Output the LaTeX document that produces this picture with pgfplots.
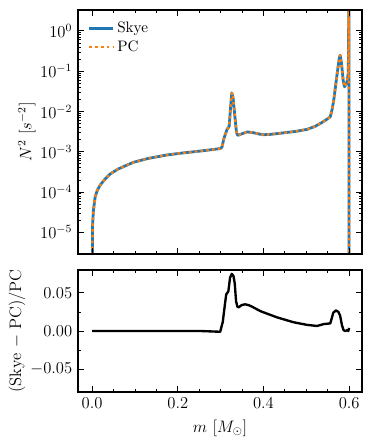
\documentclass[border=0pt,12pt]{standalone}
\usepackage{pgfplots}
\pgfplotsset{compat=1.18}
\definecolor{tabblue}{HTML}{1F77B4}
\definecolor{taborange}{HTML}{FF7F0E}
\pgfplotsset{
  panel/.style={
    scale only axis, width=204.48bp,
    xmin=-0.033, xmax=0.63,
    xtick={0,0.2,0.4,0.6}, minor x tick num=3,
    tick align=inside, xtick pos=both, ytick pos=both,
    major tick length=4bp, minor tick length=2bp,
    every tick/.style={line width=0.6pt, black},
    axis line style={line width=0.8pt},
    axis on top,
  },
}
\begin{document}
\begin{tikzpicture}
\path[use as bounding box] (-56.16bp,182.88bp) rectangle (213.12bp,-137.52bp);
% top panel: N^2 profiles
\begin{axis}[panel,
  at={(0,0)}, anchor=south west, height=175.68bp,
  ymode=log, ymin=2.9e-6, ymax=3.3,
  ytick={1e-5,1e-4,1e-3,1e-2,1e-1,1},
  xticklabels={},
  ylabel={$N^2\ [s^{-2}]$},
  every axis y label/.style={at={(axis description cs:-0.18,0.5)}, rotate=90, anchor=center},
  legend style={draw=none, fill=none, at={(axis description cs:0.02,0.975)}, anchor=north west,
    row sep=0pt, font=\small},
  legend cell align=left,
]
\addplot[tabblue, line width=2pt, line join=round] coordinates {
 (0.0,1e-7) (0.001,1.5e-5) (0.003,3.5e-5) (0.007,7.5e-5) (0.012,1.1e-4)
 (0.019,1.5e-4) (0.03,2.1e-4) (0.042,2.8e-4) (0.06,3.7e-4) (0.08,4.6e-4)
 (0.097,5.5e-4) (0.13,6.8e-4) (0.174,8.3e-4) (0.21,9.3e-4) (0.252,1.04e-3)
 (0.299,1.2e-3) (0.303,1.3e-3) (0.308,2.2e-3) (0.315,3.6e-3) (0.320,4.3e-3)
 (0.323,1.2e-2) (0.326,2.9e-2) (0.329,2.2e-2) (0.333,8e-3) (0.337,3e-3)
 (0.340,2.55e-3) (0.35,2.8e-3) (0.362,3.1e-3) (0.375,3.0e-3) (0.39,2.75e-3)
 (0.40,2.65e-3) (0.416,2.7e-3) (0.447,2.95e-3) (0.475,3.2e-3) (0.502,3.6e-3)
 (0.521,4.3e-3) (0.535,5.2e-3) (0.546,6.2e-3) (0.556,7.4e-3) (0.560,1.1e-2)
 (0.564,1.9e-2) (0.572,8.7e-2) (0.577,2.1e-1) (0.579,2.5e-1) (0.582,1.6e-1)
 (0.586,6e-2) (0.589,4.1e-2) (0.592,4.6e-2) (0.595,5.4e-2) (0.598,9e-2)
 (0.5995,10) (0.600,1e-8)
};
\addlegendentry{Skye}
\addplot[taborange, line width=1.8pt, line join=round, dash pattern=on 1.8pt off 2.4pt] coordinates {
 (0.0,1e-7) (0.001,1.5e-5) (0.003,3.5e-5) (0.007,7.5e-5) (0.012,1.1e-4)
 (0.019,1.5e-4) (0.03,2.1e-4) (0.042,2.8e-4) (0.06,3.7e-4) (0.08,4.6e-4)
 (0.097,5.5e-4) (0.13,6.8e-4) (0.174,8.3e-4) (0.21,9.3e-4) (0.252,1.04e-3)
 (0.299,1.2e-3) (0.303,1.3e-3) (0.308,2.2e-3) (0.315,3.6e-3) (0.320,4.3e-3)
 (0.323,1.2e-2) (0.326,2.9e-2) (0.329,2.2e-2) (0.333,8e-3) (0.337,3e-3)
 (0.340,2.55e-3) (0.35,2.8e-3) (0.362,3.1e-3) (0.375,3.0e-3) (0.39,2.75e-3)
 (0.40,2.65e-3) (0.416,2.7e-3) (0.447,2.95e-3) (0.475,3.2e-3) (0.502,3.6e-3)
 (0.521,4.3e-3) (0.535,5.2e-3) (0.546,6.2e-3) (0.556,7.4e-3) (0.560,1.1e-2)
 (0.564,1.9e-2) (0.572,8.7e-2) (0.577,2.1e-1) (0.579,2.5e-1) (0.582,1.6e-1)
 (0.586,6e-2) (0.589,4.1e-2) (0.592,4.6e-2) (0.595,5.4e-2) (0.598,9e-2)
 (0.5995,10) (0.600,1e-8)
};
\addlegendentry{PC}
\end{axis}
% bottom panel: relative difference
\begin{axis}[panel,
  at={(0,-99.36bp)}, anchor=south west, height=87.84bp,
  ymin=-0.08, ymax=0.08,
  ytick={-0.05,0,0.05}, minor y tick num=1,
  yticklabel style={/pgf/number format/.cd, fixed, fixed zerofill, precision=2},
  xticklabel style={/pgf/number format/.cd, fixed, fixed zerofill, precision=1},
  scaled y ticks=false,
  xlabel={$m\ [M_\odot]$},
  ylabel={(Skye $-$ PC)/PC},
  every axis y label/.style={at={(axis description cs:-0.215,0.5)}, rotate=90, anchor=center},
]
\addplot[black, line width=1.7pt, line join=round] coordinates {
 (0.0,0.0) (0.1,0.0) (0.2,0.0) (0.252,0.0) (0.299,-0.001) (0.305,0.012)
 (0.310,0.035) (0.313,0.048) (0.318,0.052) (0.322,0.070) (0.326,0.075)
 (0.330,0.072) (0.333,0.062) (0.336,0.039) (0.339,0.032) (0.342,0.031)
 (0.349,0.034) (0.357,0.035) (0.365,0.034) (0.373,0.032) (0.393,0.026)
 (0.431,0.018) (0.470,0.0115) (0.502,0.008) (0.525,0.0066) (0.540,0.009)
 (0.556,0.010) (0.559,0.016) (0.563,0.024) (0.569,0.027) (0.575,0.025)
 (0.579,0.020) (0.583,0.008) (0.587,0.001) (0.591,0.0) (0.595,0.001)
 (0.598,0.0) (0.600,0.004)
};
\end{axis}
\end{tikzpicture}
\end{document}
